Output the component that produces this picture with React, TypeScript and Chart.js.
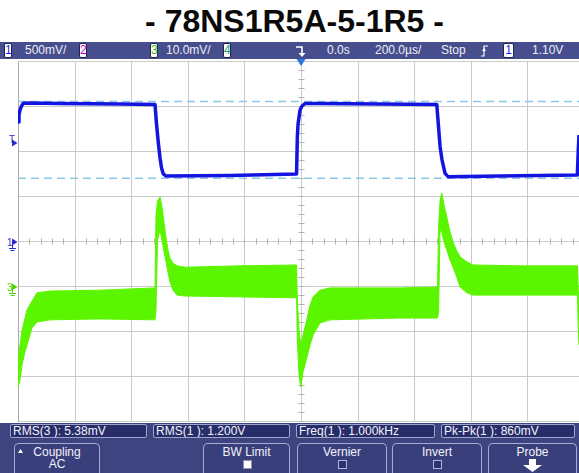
import React, { useEffect, useRef } from 'react';
import { Chart, registerables } from 'chart.js';

Chart.register(...registerables);

const TITLE = '- 78NS1R5A-5-1R5 -';

// Horizontal: 200 µs/div, trigger at 0 µs (centre of screen)
const TIME_GRID_US = [-1000, -800, -600, -400, -200, 0, 200, 400, 600, 800];
const X_MIN_US = -1000;
const X_MAX_US = 982;
// Channel 1: 500 mV/div, ground at centre
const CH1_GRID_V = [-2, -1.5, -1, -0.5, 0, 0.5, 1, 1.5, 2];
const CH1_RANGE_V = [-2, 2];
// Channel 3: 10 mV/div, ground one division below centre
const CH3_RANGE_MV = [-30, 50];
const TRIGGER_LEVEL_V = 1.1;
const CURSOR_LEVELS_V = [1.561, 0.708];

// Channel 1 trace (time µs, volts)
const BLUE_T = [-1000, -996.5, -992.9, -987.6, -981.2, -957.6, -851.6, -639.6, -516, -510.6, -504.2, -498.2, -492.9, -486.6, -477, -250.9, -15.9, -13.1, -10.6, -3.5, 3.5, 14.1, 67.1, 279.2, 479.5, 485.2, 491.2, 498.2, 508.8, 519.4, 703.2, 976, 979.5, 982];
const BLUE_V = [1.333, 1.411, 1.467, 1.511, 1.541, 1.544, 1.539, 1.533, 1.528, 1.311, 1.1, 0.933, 0.822, 0.756, 0.733, 0.739, 0.756, 1.167, 1.311, 1.467, 1.511, 1.539, 1.539, 1.533, 1.528, 1.3, 1.059, 0.911, 0.763, 0.726, 0.733, 0.744, 1.022, 1.189];

// Channel 3 ripple trace: noise envelope (time µs, upper mV, lower mV)
const GREEN_T = [-1000, -992.9, -985.8, -975.2, -968.2, -950.5, -932.8, -887, -710, -516, -512.4, -507, -498.2, -491.2, -484.1, -477, -470, -462.9, -452.3, -438.2, -409.9, -215.5, -15.9, -13.1, -7.1, -1.1, 7.1, 20.1, 31.8, 42.4, 67.1, 102.5, 349.8, 482.3, 485.9, 491.2, 497.2, 505.3, 514.8, 526.5, 538.2, 550.2, 561.8, 585.5, 607.8, 773.9, 976.7, 979.5, 982];
const GREEN_HI = [-16.2, -12.9, -9.6, -6.9, -5.1, -3.1, -1.3, -0.9, -0.7, -0.2, 16.0, 19.1, 20.0, 17.8, 14.4, 10.9, 8.2, 6.4, 5.3, 4.7, 4.4, 4.7, 4.9, -2.9, -9.6, -12.9, -10.7, -7.3, -4.0, -2.2, -0.7, -0.2, -0.2, 0, 13.6, 19.3, 20.9, 18.2, 15.6, 12.2, 9.8, 8.0, 6.7, 5.6, 4.9, 4.7, 4.7, -0.7, -2.9];
const GREEN_LO = [-22.4, -20.7, -17.3, -14.4, -12.9, -9.1, -7.8, -7.3, -7.1, -7.3, -5.1, 10.4, 12.7, 10.4, 7.8, 5.6, 3.3, 1.1, -0.7, -1.8, -2.0, -2.2, -2.4, -11.8, -19.6, -22.2, -18.9, -15.8, -12.9, -10.7, -8.0, -7.3, -6.9, -6.9, -5.6, 12.7, 12.2, 10.0, 8.2, 6.0, 4.2, 2.2, 0, -1.3, -1.8, -1.8, -1.8, -9.6, -12.9];

// Status-bar texts
const CH1_SCALE = '500mV/';
const CH3_SCALE = '10.0mV/';
const TIME_POS = '0.0s';
const TIME_SCALE = '200.0µs/';
const RUN_STATE = 'Stop';
const TRIG_LEVEL_TXT = '1.10V';
const MEASUREMENTS = ['RMS(3 ): 5.38mV', 'RMS(1 ): 1.200V', 'Freq(1 ): 1.000kHz', 'Pk-Pk(1 ): 860mV'];
const SOFTKEY_LABELS = ['Coupling', 'BW Limit', 'Vernier', 'Invert', 'Probe'];
const COUPLING_VALUE = 'AC';

const BLUE = '#1414e0';
const GREEN = '#5cf500';
const BAR_BG = '#474e8e';
const PANEL_BG = '#3e447f';

const scopePlugin = {
  id: 'scopeOverlay',
  beforeDatasetsDraw(chart: any) {
    const { ctx, chartArea, scales } = chart;
    const { left, right, top, bottom } = chartArea;
    const x = scales.x;
    const y = scales.y;
    ctx.save();
    ctx.lineWidth = 1;
    ctx.strokeStyle = '#cacaca';
    TIME_GRID_US.forEach((t) => {
      const px = Math.round(x.getPixelForValue(t)) + 0.5;
      ctx.beginPath();
      ctx.moveTo(px, top);
      ctx.lineTo(px, bottom);
      ctx.stroke();
    });
    CH1_GRID_V.forEach((v) => {
      const py = Math.round(y.getPixelForValue(v)) - 0.5;
      ctx.beginPath();
      ctx.moveTo(left, py);
      ctx.lineTo(right, py);
      ctx.stroke();
    });
    ctx.strokeStyle = '#a8a8a8';
    const lx = Math.round(x.getPixelForValue(X_MIN_US)) + 0.5;
    ctx.beginPath();
    ctx.moveTo(lx, top);
    ctx.lineTo(lx, bottom);
    ctx.stroke();
    ctx.strokeStyle = '#b4b4b4';
    const cx = Math.round(x.getPixelForValue(0)) + 0.5;
    const cy = Math.round(y.getPixelForValue(0)) - 0.5;
    for (let k = -25; k <= 25; k++) {
      const px = Math.round(x.getPixelForValue(k * 40)) + 0.5;
      if (px < left || px > right) continue;
      ctx.beginPath();
      ctx.moveTo(px, cy - 3);
      ctx.lineTo(px, cy + 3);
      ctx.stroke();
    }
    for (let k = -20; k <= 20; k++) {
      const py = Math.round(y.getPixelForValue(k * 0.1)) - 0.5;
      ctx.beginPath();
      ctx.moveTo(cx - 3, py);
      ctx.lineTo(cx + 3, py);
      ctx.stroke();
    }
    ctx.setLineDash([8, 5]);
    ctx.strokeStyle = '#8cc8e6';
    ctx.lineWidth = 1.6;
    CURSOR_LEVELS_V.forEach((v) => {
      const py = y.getPixelForValue(v);
      ctx.beginPath();
      ctx.moveTo(left, py);
      ctx.lineTo(right, py);
      ctx.stroke();
    });
    ctx.restore();
  },
  afterDatasetsDraw(chart: any) {
    const { ctx, scales } = chart;
    const x = scales.x;
    const y = scales.y;
    const y3 = scales.y3;
    ctx.save();
    const tx = x.getPixelForValue(0);
    ctx.fillStyle = '#2a78dc';
    ctx.beginPath();
    ctx.moveTo(tx - 4.5, 0);
    ctx.lineTo(tx + 4.5, 0);
    ctx.lineTo(tx, 7);
    ctx.closePath();
    ctx.fill();
    const mark = (py: number, color: string, ground: boolean) => {
      ctx.fillStyle = color;
      ctx.strokeStyle = color;
      ctx.lineWidth = 1;
      ctx.beginPath();
      ctx.moveTo(12, py - 3.5);
      ctx.lineTo(17.5, py);
      ctx.lineTo(12, py + 3.5);
      ctx.closePath();
      ctx.fill();
      if (ground) {
        ctx.beginPath();
        ctx.moveTo(12.5, py + 3);
        ctx.lineTo(12.5, py + 6);
        ctx.moveTo(9, py + 6.5);
        ctx.lineTo(16, py + 6.5);
        ctx.moveTo(10.5, py + 8.5);
        ctx.lineTo(14.5, py + 8.5);
        ctx.stroke();
      }
    };
    mark(y.getPixelForValue(TRIGGER_LEVEL_V), '#2a2ad0', false);
    mark(y.getPixelForValue(0), '#2a2ad0', true);
    mark(y3.getPixelForValue(0), '#4cd400', true);
    ctx.restore();
  },
};

function ChBox({ left, label, color, width = 8 }: { left: number; label: string; color: string; width?: number }) {
  return (
    <div
      style={{
        position: 'absolute',
        left,
        top: 1,
        width,
        height: 15,
        background: '#ffffff',
        borderRadius: 2,
        boxSizing: 'border-box',
        border: '1px solid #20244a',
        color,
        fontSize: 12,
        lineHeight: '13px',
        textAlign: 'center',
      }}
    >
      {label}
    </div>
  );
}

function BarText({ left, text }: { left: number; text: string }) {
  return (
    <span style={{ position: 'absolute', left, top: 0, lineHeight: '17px', fontSize: 12, color: '#eceef6', whiteSpace: 'nowrap' }}>
      {text}
    </span>
  );
}

export default function App() {
  const canvasRef = useRef<HTMLCanvasElement | null>(null);

  useEffect(() => {
    if (!canvasRef.current) return;
    const blueData = BLUE_T.map((t, i) => ({ x: t, y: BLUE_V[i] }));
    const greenHi = GREEN_T.map((t, i) => ({ x: t, y: GREEN_HI[i] }));
    const greenLo = GREEN_T.map((t, i) => ({ x: t, y: GREEN_LO[i] }));
    const chart = new Chart(canvasRef.current, {
      type: 'line',
      data: {
        datasets: [
          {
            label: 'CH1',
            data: blueData,
            yAxisID: 'y',
            borderColor: BLUE,
            borderWidth: 3.5,
            pointRadius: 0,
            tension: 0,
            fill: false,
            borderJoinStyle: 'round',
          },
          {
            label: 'CH3 max',
            data: greenHi,
            yAxisID: 'y3',
            borderColor: GREEN,
            borderWidth: 1,
            pointRadius: 0,
            tension: 0,
            fill: false,
          },
          {
            label: 'CH3 min',
            data: greenLo,
            yAxisID: 'y3',
            borderColor: GREEN,
            backgroundColor: GREEN,
            borderWidth: 1,
            pointRadius: 0,
            tension: 0,
            fill: '-1',
          },
        ],
      },
      options: {
        responsive: false,
        animation: false,
        devicePixelRatio: 1,
        layout: { padding: { left: 18, right: 0, top: 3, bottom: 1 } },
        plugins: { legend: { display: false }, tooltip: { enabled: false }, title: { display: false } },
        scales: {
          x: { type: 'linear', min: X_MIN_US, max: X_MAX_US, display: false },
          y: { type: 'linear', min: CH1_RANGE_V[0], max: CH1_RANGE_V[1], display: false },
          y3: { type: 'linear', min: CH3_RANGE_MV[0], max: CH3_RANGE_MV[1], display: false },
        },
      } as any,
      plugins: [scopePlugin],
    });
    return () => chart.destroy();
  }, []);

  const boxes = [
    [10, 137],
    [153, 137],
    [296, 139],
    [441, 134],
  ];
  const keys = [
    [14, 86],
    [203, 87],
    [297, 90],
    [392, 90],
    [488, 89],
  ];

  return (
    <div
      style={{
        position: 'absolute',
        left: 0,
        top: 0,
        width: 579,
        height: 473,
        background: '#ffffff',
        overflow: 'hidden',
        fontFamily: '"Liberation Sans", Arial, sans-serif',
      }}
    >
      <div
        style={{
          position: 'absolute',
          left: 0,
          top: 5,
          width: 589,
          textAlign: 'center',
          fontSize: 32,
          lineHeight: '32px',
          fontWeight: 'bold',
          color: '#0a0a0a',
          whiteSpace: 'nowrap',
        }}
      >
        {TITLE}
      </div>

      <div style={{ position: 'absolute', left: 0, top: 42, width: 579, height: 17, background: BAR_BG }}>
        <ChBox left={4} label="1" color="#1a1aff" />
        <BarText left={25} text={CH1_SCALE} />
        <ChBox left={79} label="2" color="#c000c0" />
        <ChBox left={150} label="3" color="#30c000" />
        <BarText left={166} text={CH3_SCALE} />
        <ChBox left={223} label="4" color="#10a080" />
        <svg style={{ position: 'absolute', left: 295, top: 3 }} width="12" height="13" viewBox="0 0 12 13">
          <polyline points="1,2 7,2 7,8" fill="none" stroke="#ffffff" strokeWidth="1.6" />
          <polygon points="3.5,8 10.5,8 7,12" fill="#ffffff" />
        </svg>
        <BarText left={327} text={TIME_POS} />
        <BarText left={375} text={TIME_SCALE} />
        <BarText left={441} text={RUN_STATE} />
        <svg style={{ position: 'absolute', left: 480, top: 3 }} width="9" height="12" viewBox="0 0 9 12">
          <polyline points="1,11 4,11 4,1 8,1" fill="none" stroke="#ffffff" strokeWidth="1.2" />
          <polygon points="2,6 6,6 4,3" fill="#ffffff" />
        </svg>
        <ChBox left={503} label="1" color="#1a1aff" width={11} />
        <BarText left={532} text={TRIG_LEVEL_TXT} />
      </div>

      <div style={{ position: 'absolute', left: 0, top: 59, width: 579, height: 364 }}>
        <canvas ref={canvasRef} width={579} height={364} style={{ display: 'block', width: 579, height: 364 }} />
      </div>

      <span style={{ position: 'absolute', left: 9, top: 134.5, fontSize: 10, lineHeight: '10px', color: '#2a2ad0' }}>T</span>
      <span style={{ position: 'absolute', left: 7, top: 237.5, fontSize: 10, lineHeight: '10px', color: '#2a2ad0' }}>1</span>
      <span style={{ position: 'absolute', left: 7, top: 282.5, fontSize: 10, lineHeight: '10px', color: '#4cd400' }}>3</span>

      <div style={{ position: 'absolute', left: 0, top: 423, width: 579, height: 50, background: PANEL_BG }}>
        {MEASUREMENTS.map((m, i) => (
          <div
            key={m}
            style={{
              position: 'absolute',
              left: boxes[i][0],
              top: 1,
              width: boxes[i][1],
              height: 14,
              boxSizing: 'border-box',
              background: '#272d69',
              border: '1px solid #9ea3cb',
              borderRadius: 2,
              color: '#f2f2fa',
              fontSize: 12,
              lineHeight: '12px',
              paddingLeft: 2,
              whiteSpace: 'nowrap',
              overflow: 'hidden',
            }}
          >
            {m}
          </div>
        ))}
        {SOFTKEY_LABELS.map((k, i) => (
          <div
            key={k}
            style={{
              position: 'absolute',
              left: keys[i][0],
              top: 20,
              width: keys[i][1],
              height: 34,
              boxSizing: 'border-box',
              background: '#393f7b',
              border: '1px solid #a8acd4',
              borderBottom: 'none',
              borderRadius: '5px 5px 0 0',
              color: '#f2f2fa',
              fontSize: 12,
              lineHeight: '12px',
              textAlign: 'center',
            }}
          >
            <div style={{ position: 'absolute', left: 0, right: 0, top: 2 }}>{k}</div>
            {i === 0 && (
              <>
                <svg style={{ position: 'absolute', left: 3, top: 5 }} width="5" height="4" viewBox="0 0 5 4">
                  <polygon points="0,4 5,4 2.5,0" fill="#ffffff" />
                </svg>
                <div style={{ position: 'absolute', left: 0, right: 0, top: 14 }}>{COUPLING_VALUE}</div>
              </>
            )}
            {(i === 1 || i === 2 || i === 3) && (
              <div
                style={{
                  position: 'absolute',
                  left: '50%',
                  marginLeft: -4,
                  top: 16,
                  width: 9,
                  height: 9,
                  boxSizing: 'border-box',
                  background: i === 1 ? '#ffffff' : '#2c3270',
                  border: i === 1 ? '1px solid #8c90b4' : '1px solid #b4b8d8',
                }}
              />
            )}
            {i === 4 && (
              <svg style={{ position: 'absolute', left: 34, top: 15 }} width="20" height="14" viewBox="0 0 20 14">
                <polygon points="6,0 13,0 13,6 19,6 9.5,13 0,6 6,6" fill="#ffffff" />
              </svg>
            )}
          </div>
        ))}
      </div>
    </div>
  );
}
